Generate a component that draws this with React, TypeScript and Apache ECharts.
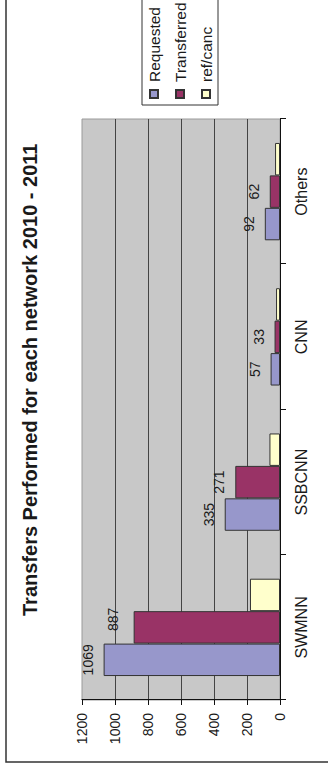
import React, { useEffect, useRef } from 'react';
import * as echarts from 'echarts';

// Transfers per network, 2010 - 2011
const categories = ['SWMNN', 'SSBCNN', 'CNN', 'Others'];
const requested = [1069, 335, 57, 92];
const transferred = [887, 271, 33, 62];
const refCanc = [182, 64, 24, 30];
const seriesNames = ['Requested', 'Transferred', 'ref/canc'];
const valueMin = 0;
const valueMax = 1200;
const valueStep = 200;
const titleText = 'Transfers Performed for each network 2010 - 2011';

const colors = ['#9797CB', '#993366', '#FFFFCC'];
const FONT = '"Liberation Sans", Arial, sans-serif';

// The chart is laid out landscape and then turned a quarter turn anticlockwise.
const CW = 769;
const CH = 328;

export default function App() {
  const ref = useRef<HTMLDivElement>(null);

  useEffect(() => {
    if (!ref.current) return;
    const chart = echarts.init(ref.current, null, { renderer: 'svg' });

    const barLabel = {
      show: true,
      position: 'top' as const,
      distance: 9,
      fontFamily: FONT,
      fontSize: 14,
      color: '#1a1a1a',
    };

    const makeSeries = (name: string, data: any[], color: string, withLabel: boolean) => ({
      name,
      type: 'bar',
      data,
      barGap: '0%',
      barCategoryGap: '33%',
      itemStyle: { color, borderColor: '#333', borderWidth: 1 },
      label: withLabel ? barLabel : { show: false },
    });

    // the first Transferred label sits slightly apart from its bar
    const transferredData = transferred.map((v, i) =>
      i === 0 ? { value: v, label: { offset: [8, -5] } } : v
    );

    chart.setOption({
      animation: false,
      backgroundColor: '#ffffff',
      textStyle: { fontFamily: FONT },
      title: {
        text: titleText,
        left: 153,
        top: 20,
        padding: 0,
        textStyle: { fontFamily: FONT, fontSize: 20, fontWeight: 'bold', color: '#1a1a1a' },
      },
      legend: {
        data: seriesNames,
        orient: 'vertical',
        left: 664,
        top: 142,
        itemWidth: 8,
        itemHeight: 8,
        itemGap: 10,
        padding: [4, 3, 4, 6],
        borderColor: '#333',
        borderWidth: 1,
        backgroundColor: '#ffffff',
        icon: 'rect',
        textStyle: { fontFamily: FONT, fontSize: 15.5, color: '#1a1a1a', padding: [0, 0, 0, 3] },
      },
      grid: {
        left: 69,
        right: CW - 650,
        top: 82,
        bottom: CH - 280,
        show: true,
        backgroundColor: '#C8C8C8',
        borderColor: '#9a9a9a',
        borderWidth: 1,
      },
      xAxis: {
        type: 'category',
        data: categories,
        axisLine: { show: true, lineStyle: { color: '#111', width: 1 } },
        axisTick: { show: true, length: 6, lineStyle: { color: '#111' } },
        axisLabel: { fontFamily: FONT, fontSize: 16, color: '#1a1a1a', margin: 13 },
        splitLine: { show: false },
      },
      yAxis: {
        type: 'value',
        min: valueMin,
        max: valueMax,
        interval: valueStep,
        axisLine: { show: true, lineStyle: { color: '#111', width: 1 } },
        axisTick: { show: true, length: 5, lineStyle: { color: '#111' } },
        axisLabel: {
          fontFamily: FONT,
          fontSize: 14,
          color: '#1a1a1a',
          margin: 13,
          formatter: (v: number) => String(v),
        },
        splitLine: { show: true, showMaxLine: false, lineStyle: { color: '#444', width: 1 } },
      },
      graphic: [
        {
          type: 'rect',
          silent: true,
          z: 100,
          shape: { x: 7, y: 6, width: CW + 50, height: CH + 50 },
          style: { fill: 'none', stroke: '#333', lineWidth: 1.5 },
        },
      ],
      series: [
        makeSeries(seriesNames[0], requested, colors[0], true),
        makeSeries(seriesNames[1], transferredData, colors[1], true),
        makeSeries(seriesNames[2], refCanc, colors[2], false),
      ],
    });

    return () => chart.dispose();
  }, []);

  return (
    <div
      style={{
        position: 'fixed',
        left: 0,
        top: 0,
        width: CH,
        height: CW,
        overflow: 'hidden',
        background: '#ffffff',
      }}
    >
      <div
        ref={ref}
        style={{
          position: 'absolute',
          left: 0,
          top: 0,
          width: CW,
          height: CH,
          transformOrigin: '0 0',
          transform: `translate(0px, ${CW}px) rotate(-90deg)`,
        }}
      />
    </div>
  );
}
